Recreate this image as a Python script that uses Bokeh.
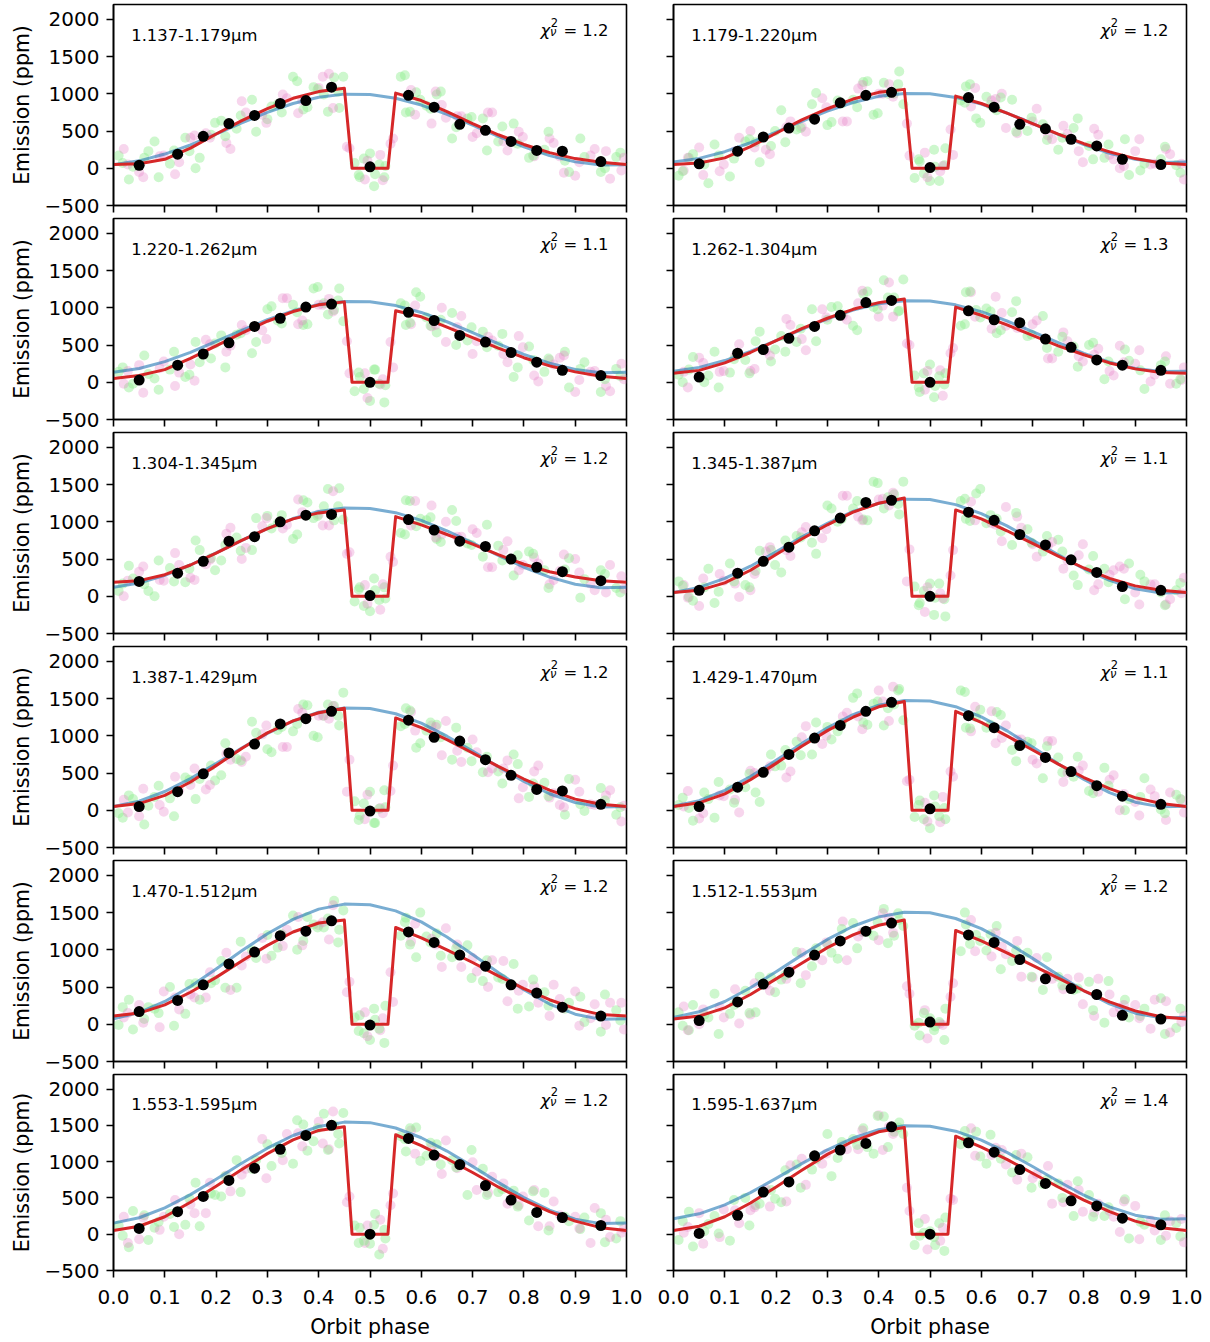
from bokeh.plotting import figure
from bokeh.models import Label, FixedTicker, NumeralTickFormatter
from bokeh.layouts import column, row
from bokeh.embed import file_html
from bokeh.resources import INLINE

# ---------------- data ----------------
panel_labels = ["1.137-1.179μm", "1.179-1.220μm", "1.220-1.262μm", "1.262-1.304μm",
                "1.304-1.345μm", "1.345-1.387μm", "1.387-1.429μm", "1.429-1.470μm",
                "1.470-1.512μm", "1.512-1.553μm", "1.553-1.595μm", "1.595-1.637μm"]
chi2_values = ["1.2", "1.2", "1.1", "1.3", "1.2", "1.1", "1.2", "1.1", "1.2", "1.2", "1.2", "1.4"]

x_ticks = [0.0, 0.1, 0.2, 0.3, 0.4, 0.5, 0.6, 0.7, 0.8, 0.9, 1.0]
x_tick_labels = ["0.0", "0.1", "0.2", "0.3", "0.4", "0.5", "0.6", "0.7", "0.8", "0.9", "1.0"]
y_ticks = [-500, 0, 500, 1000, 1500, 2000]
y_tick_labels = ["\u2212500", "0", "500", "1000", "1500", "2000"]

# phases of the binned points
bin_phase = [0.05, 0.125, 0.175, 0.225, 0.275, 0.325, 0.375, 0.425, 0.5,
             0.575, 0.625, 0.675, 0.725, 0.775, 0.825, 0.875, 0.95]
# phases of the eclipse model (red)
eclipse_phase = [0.0, 0.05, 0.1, 0.15, 0.2, 0.25, 0.3, 0.35, 0.4, 0.45, 0.465,
                 0.535, 0.55, 0.6, 0.65, 0.7, 0.75, 0.8, 0.85, 0.9, 0.95, 1.0]
# phases of the sinusoid model (blue)
sine_phase = [0.0, 0.05, 0.1, 0.15, 0.2, 0.25, 0.3, 0.35, 0.4, 0.45, 0.5,
              0.55, 0.6, 0.65, 0.7, 0.75, 0.8, 0.85, 0.9, 0.95, 1.0]
# phases of the unbinned exposures (same for every channel)
green_phase = [0.01, 0.03, 0.06, 0.08, 0.11, 0.14, 0.16, 0.19, 0.21, 0.24,
               0.27, 0.30, 0.32, 0.35, 0.37, 0.39, 0.41, 0.43, 0.44, 0.47,
               0.48, 0.50, 0.51, 0.53, 0.56, 0.57, 0.59, 0.61, 0.63, 0.66,
               0.69, 0.72, 0.75, 0.78, 0.81, 0.84, 0.88, 0.91, 0.95, 0.98]
green_phase_b = [0.018, 0.038, 0.068, 0.088, 0.118, 0.148, 0.168, 0.198, 0.218, 0.248,
                 0.278, 0.308, 0.328, 0.358, 0.378, 0.398, 0.418, 0.438, 0.448, 0.478,
                 0.488, 0.508, 0.518, 0.528, 0.568, 0.578, 0.598, 0.618, 0.638, 0.668,
                 0.698, 0.728, 0.758, 0.788, 0.818, 0.848, 0.888, 0.918, 0.958, 0.988]
pink_phase = [0.02, 0.05, 0.09, 0.12, 0.15, 0.18, 0.22, 0.25, 0.29, 0.33,
              0.36, 0.40, 0.42, 0.46, 0.49, 0.52, 0.54, 0.58, 0.62, 0.64,
              0.67, 0.70, 0.73, 0.76, 0.79, 0.82, 0.85, 0.87, 0.90, 0.93, 0.96, 0.99]
pink_phase_b = [0.028, 0.058, 0.098, 0.128, 0.158, 0.188, 0.228, 0.258, 0.298, 0.338,
                0.368, 0.408, 0.428, 0.455, 0.495, 0.525, 0.545, 0.588, 0.628, 0.648,
                0.678, 0.708, 0.738, 0.768, 0.798, 0.828, 0.858, 0.878, 0.908, 0.938, 0.968, 0.995]

# --- panel 1: 1.137-1.179
binned_01 = [40, 190, 430, 600, 710, 870, 910, 1090, 20, 980, 820, 590, 510, 360, 240, 230, 90]
eclipse_01 = [50, 60, 120, 270, 460, 640, 800, 940, 1030, 1075, 0, 0, 1010, 910, 760, 600, 450, 320, 210, 130, 80, 50]
sine_01 = [49, 100, 191, 315, 460, 610, 751, 870, 954, 996, 991, 940, 849, 724, 580, 430, 289, 170, 86, 44, 49]
green_01 = [170, -150, 140, 360, 60, 410, 0, 450, 640, 530, 920, 660, 860, 1230, 790, 1090, 990, 1220, 810, 70,
            -120, 200, -80, 30, 1230, 750, 1020, 840, 990, 400, 670, 670, 360, 600, 140, 250, 100, 400, -50, 150]
green_01b = [70, 20, 230, -120, 240, 230, 140, 610, 430, 710, 490, 830, 750, 1170, 820, 1060, 760, 1030, 1230, -90,
             130, -240, 50, -120, 1250, 760, 920, 800, 1030, 550, 690, 240, 560, 330, 170, 490, -50, 150, 0, 210]
pink_01 = [260, -50, 160, -80, 410, 470, 340, 900, 720, 990, 740, 1080, 1270, 270, -150, 180,
           330, 1050, 600, 850, 700, 420, 750, 360, 490, 160, 400, 160, -100, 170, 230, -30]
pink_01b = [50, -120, 170, 80, 440, 410, 260, 750, 610, 940, 910, 1230, 810, 290, 100, -160,
            400, 720, 1030, 680, 700, 470, 750, 240, 420, 240, 340, -60, 80, 260, -140, 140]

# --- panel 2: 1.179-1.220
binned_02 = [60, 230, 420, 540, 660, 880, 980, 1020, 10, 950, 820, 590, 530, 390, 300, 120, 50]
eclipse_02 = [50, 70, 140, 290, 470, 650, 800, 930, 1020, 1060, 0, 0, 970, 870, 740, 600, 460, 330, 220, 130, 70, 50]
sine_02 = [83, 133, 223, 343, 485, 630, 768, 884, 966, 1006, 1002, 952, 863, 742, 601, 456, 317, 202, 120, 79, 83]
green_02 = [-100, 140, 50, 320, -110, 360, 350, 300, 780, 520, 860, 580, 910, 920, 1160, 720, 1150, 1000, 1300, -130,
            90, -170, 20, 270, 910, 1100, 670, 960, 780, 920, 500, 590, 250, 540, 300, 140, 390, -30, 120, 40]
green_02b = [-40, 190, -200, 170, 130, 390, 80, 500, 350, 540, 1010, 620, 870, 820, 1170, 740, 1000, 1130, 860, 120,
             -70, 250, -170, 40, 880, 1130, 610, 850, 950, 490, 680, 380, 410, 670, 120, 320, -90, 60, 290, -60]
pink_02 = [-30, 280, -40, 230, 500, 250, 550, 560, 940, 630, 1070, 1000, 1130, 170, 210, -40,
           520, 830, 910, 1000, 470, 630, 440, 570, 230, 530, 180, 0, 230, 50, 260, 60]
pink_02b = [140, -90, 50, 410, 280, 190, 630, 490, 820, 630, 1120, 1000, 960, 600, -120, 30,
            180, 1080, 930, 540, 620, 800, 390, 460, 80, 450, 120, 30, 390, 60, 190, -150]

# --- panel 3: 1.220-1.262
binned_03 = [30, 230, 380, 530, 750, 860, 1010, 1050, 0, 940, 830, 630, 540, 400, 270, 160, 90]
eclipse_03 = [50, 90, 170, 320, 490, 660, 820, 950, 1040, 1080, 0, 0, 960, 880, 740, 600, 460, 330, 220, 140, 80, 50]
sine_03 = [134, 185, 277, 402, 548, 698, 840, 960, 1045, 1086, 1081, 1030, 938, 813, 668, 518, 375, 256, 171, 129, 134]
green_03 = [140, -70, 360, 50, 170, 70, 540, 320, 630, 640, 390, 980, 830, 1040, 770, 1260, 1060, 970, 1260, -120,
            70, -250, 170, -40, 1060, 770, 1210, 870, 670, 930, 560, 680, 490, 70, 480, 140, 410, 180, -130, 180]
green_03b = [200, -20, 110, -100, 410, 100, 270, 520, 200, 660, 540, 1020, 790, 940, 780, 1280, 910, 1100, 820, 130,
             -90, 170, -20, -270, 1030, 800, 1150, 760, 840, 500, 740, 470, 650, 200, 300, 320, -70, 270, 40, 80]
pink_03 = [-20, 230, 190, -50, 240, 570, 410, 770, 700, 1130, 780, 1040, 1120, 120, 120, -30,
           540, 780, 750, 1000, 740, 380, 610, 380, 620, 90, 300, 330, -130, 140, -50, 250]
pink_03b = [150, -140, 280, 130, 20, 510, 490, 700, 580, 1130, 830, 1040, 950, 550, -210, 40,
            200, 1030, 770, 540, 890, 550, 560, 270, 470, 10, 240, 360, 30, 150, -120, 40]

# --- panel 4: 1.262-1.304
binned_04 = [70, 390, 440, 590, 750, 900, 1070, 1100, 0, 960, 840, 800, 580, 470, 300, 230, 160]
eclipse_04 = [120, 160, 260, 400, 560, 720, 860, 980, 1070, 1120, 0, 0, 1010, 900, 770, 630, 490, 370, 260, 180, 130, 120]
sine_04 = [149, 200, 292, 416, 560, 710, 851, 970, 1055, 1096, 1091, 1040, 949, 824, 680, 531, 389, 271, 186, 144, 149]
green_04 = [100, 170, 0, 410, 130, 300, 550, 280, 620, 540, 980, 840, 1020, 760, 1190, 1010, 1370, 1140, 960, 90,
            -130, 240, -50, 120, 760, 1210, 970, 990, 660, 940, 620, 890, 410, 480, 500, 40, 440, 160, 230, -20]
green_04b = [0, 340, 90, -70, 310, 120, 680, 440, 410, 720, 550, 1010, 910, 700, 1220, 980, 1140, 950, 1380, -70,
             120, -200, 80, -30, 780, 1220, 870, 950, 700, 1090, 640, 460, 610, 210, 530, 280, 290, -90, 280, 40]
pink_04 = [140, 330, 140, 350, 150, 420, 850, 580, 980, 890, 1060, 880, 1340, 500, -100, 160,
           390, 1210, 720, 930, 730, 780, 320, 670, 350, 370, 150, 490, 250, 10, 350, 30]
pink_04b = [-70, 260, 150, 510, 180, 360, 770, 430, 870, 840, 1230, 1030, 880, 520, 150, -180,
            460, 880, 1150, 760, 730, 830, 320, 550, 280, 450, 90, 270, 430, 100, -20, 200]

# --- panel 5: 1.304-1.345
binned_05 = [200, 310, 470, 740, 800, 1000, 1090, 1100, 10, 1030, 890, 740, 670, 500, 390, 330, 210]
eclipse_05 = [190, 210, 290, 420, 580, 750, 910, 1040, 1120, 1160, 0, 0, 1070, 960, 830, 700, 560, 430, 330, 260, 210, 190]
sine_05 = [120, 177, 281, 420, 583, 752, 910, 1044, 1139, 1186, 1180, 1123, 1020, 880, 718, 550, 390, 257, 162, 114, 120]
green_05 = [70, 410, 160, 0, 380, 190, 750, 510, 480, 790, 620, 1080, 980, 770, 1290, 1050, 1210, 1020, 1450, -70,
            120, -200, 80, -30, 850, 1290, 940, 1020, 770, 1160, 710, 530, 680, 280, 600, 350, 360, -20, 350, 110]
green_05b = [170, 240, 70, 480, 200, 370, 620, 350, 690, 610, 1050, 910, 1090, 830, 1260, 1080, 1440, 1210, 1030, 90,
             -130, 240, -50, 120, 830, 1280, 1040, 1060, 730, 1010, 690, 960, 480, 550, 570, 110, 510, 230, 300, 50]
pink_05 = [0, 330, 220, 580, 250, 430, 840, 500, 940, 910, 1300, 1100, 950, 590, 150, -180,
           530, 950, 1220, 830, 800, 900, 390, 620, 350, 520, 160, 340, 500, 170, 50, 270]
pink_05b = [210, 400, 210, 420, 220, 490, 920, 650, 1050, 960, 1130, 950, 1410, 570, -100, 160,
            460, 1280, 790, 1000, 800, 850, 390, 740, 420, 440, 220, 560, 320, 80, 420, 100]

# --- panel 6: 1.345-1.387
binned_06 = [80, 310, 470, 660, 880, 1050, 1260, 1290, 0, 1130, 1020, 830, 690, 490, 320, 130, 80]
eclipse_06 = [50, 80, 180, 350, 560, 770, 960, 1130, 1250, 1320, 0, 0, 1160, 1040, 880, 710, 540, 380, 240, 140, 80, 50]
sine_06 = [51, 119, 241, 404, 596, 794, 981, 1139, 1250, 1305, 1299, 1231, 1111, 946, 755, 557, 369, 213, 101, 45, 51]
green_06 = [200, -10, 120, -90, 440, 150, 340, 620, 320, 810, 720, 1220, 1000, 1180, 1030, 1540, 1180, 1370, 1100, 130,
            -90, 170, -20, -270, 1280, 1040, 1380, 980, 1040, 690, 900, 600, 760, 280, 360, 370, -40, 290, 50, 80]
green_06b = [140, -60, 370, 60, 200, 120, 610, 420, 750, 790, 570, 1180, 1040, 1280, 1020, 1520, 1330, 1240, 1540, -120,
             70, -250, 170, -40, 1310, 1010, 1440, 1090, 870, 1120, 720, 810, 600, 150, 540, 190, 440, 200, -120, 180]
pink_06 = [150, -130, 300, 170, 80, 600, 620, 860, 780, 1350, 1070, 1300, 1220, 630, -210, 40,
           280, 1270, 980, 740, 1070, 700, 680, 370, 550, 80, 290, 400, 50, 160, -110, 40]
pink_06b = [-20, 240, 210, -10, 300, 660, 540, 930, 900, 1350, 1020, 1310, 1390, 200, 120, -30,
            620, 1020, 960, 1200, 920, 530, 730, 480, 700, 160, 350, 370, -110, 160, -40, 250]

# --- panel 7: 1.387-1.429
binned_07 = [50, 250, 490, 770, 890, 1160, 1230, 1330, -10, 1210, 980, 930, 680, 470, 280, 260, 80]
eclipse_07 = [50, 90, 200, 380, 600, 830, 1040, 1200, 1310, 1370, 0, 0, 1240, 1110, 950, 770, 590, 420, 270, 150, 80, 50]
sine_07 = [52, 123, 252, 425, 627, 836, 1033, 1199, 1317, 1375, 1368, 1297, 1170, 995, 794, 585, 387, 222, 104, 45, 52]
green_07 = [-40, 200, -190, 180, 160, 440, 150, 600, 470, 690, 1190, 820, 1080, 1060, 1420, 1000, 1270, 1400, 1140, 120,
            -70, 250, -170, 40, 1130, 1370, 840, 1070, 1150, 680, 840, 510, 520, 750, 180, 370, -60, 80, 300, -60]
green_07b = [-100, 150, 60, 330, -80, 410, 420, 400, 900, 670, 1040, 780, 1120, 1160, 1410, 980, 1420, 1270, 1580, -130,
             90, -170, 20, 270, 1160, 1340, 900, 1180, 980, 1110, 660, 720, 360, 620, 360, 190, 420, -10, 130, 40]
pink_07 = [140, -80, 70, 450, 340, 280, 760, 650, 1020, 850, 1360, 1270, 1230, 680, -120, 30,
           260, 1320, 1140, 740, 800, 950, 510, 560, 160, 520, 170, 70, 410, 80, 200, -150]
pink_07b = [-30, 290, -20, 270, 560, 340, 680, 720, 1140, 850, 1310, 1270, 1400, 250, 210, -40,
            600, 1070, 1120, 1200, 650, 780, 560, 670, 310, 600, 230, 40, 250, 70, 270, 60]

# --- panel 8: 1.429-1.470
binned_08 = [50, 310, 510, 750, 970, 1140, 1330, 1450, 20, 1270, 1110, 870, 710, 520, 330, 190, 80]
eclipse_08 = [50, 100, 220, 410, 630, 860, 1070, 1250, 1390, 1460, 0, 0, 1330, 1180, 1000, 810, 620, 440, 290, 170, 90, 50]
sine_08 = [53, 129, 268, 453, 671, 895, 1107, 1286, 1412, 1474, 1467, 1391, 1254, 1067, 851, 626, 413, 236, 109, 46, 53]
green_08 = [70, 30, 240, -100, 280, 310, 240, 750, 600, 920, 750, 1120, 1060, 1510, 1180, 1430, 1140, 1420, 1630, -90,
            130, -240, 50, -120, 1610, 1110, 1250, 1110, 1320, 810, 920, 430, 710, 450, 260, 570, 0, 180, 10, 210]
green_08b = [170, -140, 150, 380, 100, 490, 110, 590, 810, 740, 1180, 950, 1170, 1570, 1150, 1460, 1370, 1610, 1210, 70,
             -120, 200, -80, 30, 1590, 1100, 1350, 1150, 1280, 660, 900, 860, 510, 720, 230, 330, 150, 430, -40, 150]
pink_08 = [50, -110, 200, 140, 530, 530, 440, 980, 890, 1260, 1260, 1610, 1200, 410, 100, -160,
           520, 1060, 1330, 970, 950, 680, 930, 380, 530, 330, 410, 0, 110, 280, -130, 140]
pink_08b = [260, -40, 190, -30, 500, 590, 520, 1130, 1000, 1310, 1090, 1460, 1660, 390, -150, 180,
            450, 1390, 900, 1140, 950, 630, 930, 500, 600, 250, 470, 220, -70, 190, 240, -30]

# --- panel 9: 1.470-1.512
binned_09 = [170, 320, 530, 810, 970, 1190, 1250, 1390, -10, 1240, 1100, 930, 780, 530, 420, 230, 110]
eclipse_09 = [110, 150, 260, 430, 630, 850, 1060, 1240, 1360, 1400, 0, 0, 1300, 1160, 1000, 830, 650, 480, 330, 210, 130, 110]
sine_09 = [74, 157, 306, 508, 743, 987, 1216, 1409, 1547, 1614, 1606, 1523, 1375, 1172, 938, 695, 464, 272, 135, 66, 74]
green_09 = [-10, 330, 70, 210, 500, 140, 550, 550, 850, 490, 990, 1200, 1030, 1460, 1120, 1340, 1300, 1660, 1270, 90,
            120, -210, 60, 250, 1190, 1430, 900, 1180, 1220, 900, 1060, 580, 630, 810, 240, 430, 210, 370, -100, 190]
green_09b = [230, -70, 230, 150, -20, 540, 330, 590, 490, 1110, 890, 920, 1210, 1000, 1440, 1300, 1420, 1100, 1530, -90,
             -120, 210, -60, -250, 1370, 1070, 1500, 1100, 920, 1020, 620, 860, 610, 210, 600, 250, 290, 30, 400, 50]
pink_09 = [90, 260, -40, 360, 400, 360, 960, 790, 1160, 1050, 1440, 1330, 1140, 570, 160, -80,
           700, 1110, 1150, 770, 1070, 890, 500, 850, 450, 510, 110, 340, 440, 80, -10, 290]
pink_09b = [150, 20, 440, 200, 360, 700, 460, 910, 880, 1270, 1060, 1370, 1600, 430, -160, 80,
            300, 1350, 1070, 1290, 770, 710, 860, 310, 530, 290, 530, 220, -20, 270, 290, -70]

# --- panel 10: 1.512-1.553
binned_10 = [50, 300, 540, 700, 930, 1120, 1250, 1360, 30, 1200, 1100, 870, 610, 480, 400, 120, 70]
eclipse_10 = [70, 110, 220, 400, 610, 820, 1030, 1200, 1330, 1400, 0, 0, 1260, 1120, 960, 790, 620, 450, 300, 180, 100, 70]
sine_10 = [93, 169, 306, 490, 706, 929, 1140, 1317, 1443, 1504, 1497, 1421, 1285, 1100, 885, 662, 450, 274, 149, 86, 93]
green_10 = [160, -80, 130, 410, 140, 450, 160, 630, 600, 970, 780, 1080, 880, 1360, 1240, 1190, 1550, 1190, 1400, -20,
            -150, 80, -30, 210, 980, 1340, 1200, 990, 1320, 850, 960, 460, 640, 460, 570, 20, 330, 110, 350, -50]
green_10b = [-20, 260, 90, -130, 260, 150, 640, 430, 660, 550, 1020, 960, 1280, 1020, 1240, 1370, 1090, 1490, 1320, 20,
             150, -80, 30, -210, 1500, 1080, 1120, 1210, 740, 990, 640, 900, 520, 480, 190, 580, 90, 210, -130, 210]
pink_10 = [240, 0, 230, 470, 130, 530, 610, 960, 860, 1380, 1180, 1130, 1430, 410, 190, 10,
           370, 1400, 910, 1040, 1120, 630, 670, 470, 630, 110, 400, 220, 260, -60, 310, 30]
pink_10b = [-80, 200, 90, 10, 550, 450, 730, 660, 1100, 860, 1240, 1490, 1230, 510, -190, -10,
            550, 980, 1230, 940, 640, 890, 610, 610, 270, 610, 160, 260, 80, 330, -110, 110]

# --- panel 11: 1.553-1.595
binned_11 = [80, 310, 520, 740, 910, 1170, 1360, 1500, 0, 1320, 1090, 960, 670, 470, 300, 230, 120]
eclipse_11 = [50, 110, 240, 440, 660, 890, 1110, 1300, 1430, 1480, 0, 0, 1370, 1220, 1040, 850, 650, 470, 310, 180, 90, 50]
sine_11 = [153, 227, 363, 545, 758, 978, 1185, 1360, 1484, 1544, 1537, 1463, 1329, 1145, 934, 714, 505, 332, 208, 146, 153]
green_11 = [120, -180, 260, 90, 280, 130, 710, 560, 520, 1020, 900, 1240, 1200, 970, 1510, 1280, 1660, 1500, 1250, 120,
            90, -130, 280, -60, 1350, 1140, 1470, 1080, 1240, 1020, 540, 900, 580, 600, 190, 570, 240, 70, 290, -60]
green_11b = [-20, 320, -80, 170, 100, 490, 110, 540, 800, 580, 1020, 940, 1120, 1570, 1150, 1460, 1160, 1380, 1670, -120,
             -90, 130, -280, 60, 1310, 1460, 1010, 1260, 960, 920, 1160, 540, 620, 380, 590, 50, 180, 230, -110, 180]
pink_11 = [240, -70, 60, 470, 410, 290, 810, 820, 1310, 1020, 1390, 1550, 1170, 520, -120, 200,
           400, 1430, 1210, 830, 910, 990, 570, 700, 400, 610, 110, 260, 240, -120, 200, 20]
pink_11b = [-120, 230, 240, 0, 290, 710, 590, 900, 770, 1380, 1210, 1250, 1690, 440, 120, -200,
            560, 1110, 1070, 1290, 950, 610, 790, 420, 520, 110, 450, 220, 80, 360, -40, 80]

# --- panel 12: 1.595-1.637
binned_12 = [10, 260, 580, 720, 1080, 1160, 1250, 1480, 0, 1260, 1130, 890, 700, 460, 390, 220, 130]
eclipse_12 = [50, 110, 240, 430, 650, 880, 1100, 1280, 1410, 1470, 0, 0, 1350, 1200, 1030, 840, 650, 470, 310, 180, 90, 50]
sine_12 = [212, 281, 405, 573, 769, 972, 1163, 1325, 1439, 1495, 1488, 1419, 1296, 1127, 932, 729, 537, 377, 262, 205, 212]
green_12 = [-80, 310, 40, 250, -90, 500, 400, 610, 440, 960, 890, 1380, 1050, 1310, 1460, 1110, 1620, 1410, 1540, -150,
            -20, 40, -150, 230, 1240, 1300, 1410, 970, 1160, 850, 1060, 690, 700, 250, 540, 250, 480, 170, -80, 150]
green_12b = [180, -170, 140, 10, 470, 120, 420, 490, 880, 640, 1030, 800, 1270, 1230, 1200, 1630, 1200, 1470, 1380, 150,
             20, -40, 150, -230, 1420, 1300, 1070, 1370, 1040, 1090, 640, 750, 500, 730, 240, 370, -60, 130, 260, -30]
pink_12 = [20, 290, -40, 330, 330, 620, 450, 1040, 970, 1230, 1170, 1640, 1480, 320, 210, -90,
           490, 1460, 1090, 1160, 750, 770, 940, 440, 610, 300, 320, 30, 390, 190, -20, 210]
pink_12b = [100, -130, 340, 150, 370, 380, 950, 680, 1110, 1170, 1430, 1160, 1380, 640, -210, 90,
            470, 1080, 1190, 960, 1110, 830, 420, 680, 310, 420, 240, 450, -70, 50, 180, -110]

binned_all = [binned_01, binned_02, binned_03, binned_04, binned_05, binned_06,
              binned_07, binned_08, binned_09, binned_10, binned_11, binned_12]
eclipse_all = [eclipse_01, eclipse_02, eclipse_03, eclipse_04, eclipse_05, eclipse_06,
               eclipse_07, eclipse_08, eclipse_09, eclipse_10, eclipse_11, eclipse_12]
sine_all = [sine_01, sine_02, sine_03, sine_04, sine_05, sine_06,
            sine_07, sine_08, sine_09, sine_10, sine_11, sine_12]
green_all = [green_01, green_02, green_03, green_04, green_05, green_06,
             green_07, green_08, green_09, green_10, green_11, green_12]
green_all_b = [green_01b, green_02b, green_03b, green_04b, green_05b, green_06b,
               green_07b, green_08b, green_09b, green_10b, green_11b, green_12b]
pink_all = [pink_01, pink_02, pink_03, pink_04, pink_05, pink_06,
            pink_07, pink_08, pink_09, pink_10, pink_11, pink_12]
pink_all_b = [pink_01b, pink_02b, pink_03b, pink_04b, pink_05b, pink_06b,
              pink_07b, pink_08b, pink_09b, pink_10b, pink_11b, pink_12b]

# ---------------- style ----------------
FONT = "DejaVu Sans"
TICK_FS = "20px"
LABEL_FS = "20.5px"
ANNOT_FS = "16.4px"
SCRIPT_FS = "11.5px"
GREEN = "#90ee90"
PINK = "#e377c2"


def style_axis(ax, show_labels):
    ax.axis_line_color = "black"
    ax.axis_line_width = 1.6
    ax.major_tick_line_color = "black"
    ax.major_tick_line_width = 1.6
    ax.major_tick_in = 0
    ax.major_tick_out = 7
    ax.minor_tick_line_color = None
    ax.axis_label_text_font = FONT
    ax.axis_label_text_font_size = LABEL_FS
    ax.axis_label_text_font_style = "normal"
    ax.axis_label_text_color = "black"
    if show_labels:
        ax.major_label_text_font = FONT
        ax.major_label_text_font_size = TICK_FS
        ax.major_label_text_color = "black"
    else:
        # ticks only, no tick labels drawn
        ax.major_label_text_color = None
        ax.major_label_text_font_size = "0px"
        ax.major_label_standoff = 0


def make_panel(i):
    left = (i % 2 == 0)
    first = (i < 2)
    bottom = (i >= 10)
    top_b = 4 if first else 1
    bot_b = 66 if bottom else 12
    p = figure(width=642 if left else 568, height=top_b + 201 + bot_b,
               x_range=(0, 1), y_range=(-500, 2200),
               output_backend="svg", toolbar_location=None,
               min_border_left=113 if left else 31,
               min_border_right=16 if left else 24,
               min_border_top=top_b, min_border_bottom=bot_b)
    p.outline_line_color = "black"
    p.outline_line_width = 1.6
    p.outline_line_alpha = 1.0
    p.grid.visible = False
    p.background_fill_color = "white"
    p.border_fill_color = "white"

    xa = p.xaxis[0]
    xa.ticker = FixedTicker(ticks=x_ticks)
    style_axis(xa, bottom)
    if bottom:
        xa.formatter = NumeralTickFormatter(format="0.0")
        xa.major_label_overrides = {t: s for t, s in zip(x_ticks, x_tick_labels)}
        xa.major_label_standoff = 12
        xa.axis_label = "Orbit phase"
        xa.axis_label_standoff = 8

    ya = p.yaxis[0]
    ya.ticker = FixedTicker(ticks=y_ticks)
    style_axis(ya, left)
    if left:
        ya.major_label_overrides = {t: s for t, s in zip(y_ticks, y_tick_labels)}
        ya.major_label_standoff = 7
        ya.axis_label = "Emission (ppm)"
        ya.axis_label_standoff = 8

    # unbinned data
    p.scatter(green_phase, green_all[i], size=10, fill_color=GREEN,
              fill_alpha=0.45, line_color=None)
    p.scatter(pink_phase, pink_all[i], size=10, fill_color=PINK,
              fill_alpha=0.3, line_color=None)
    p.scatter(green_phase_b, green_all_b[i], size=10, fill_color=GREEN,
              fill_alpha=0.45, line_color=None)
    p.scatter(pink_phase_b, pink_all_b[i], size=10, fill_color=PINK,
              fill_alpha=0.3, line_color=None)
    # models
    p.line(sine_phase, sine_all[i], line_color="#1f77b4", line_alpha=0.6,
           line_width=3, line_join="round")
    p.line(eclipse_phase, eclipse_all[i], line_color="#d62728", line_width=3,
           line_join="round")
    # binned data
    p.scatter(bin_phase, binned_all[i], size=11, fill_color="black", line_color=None)

    # annotations
    p.add_layout(Label(x=0.0345, y=1780, text=panel_labels[i], text_font=FONT,
                       text_font_size=ANNOT_FS, text_color="black",
                       text_baseline="alphabetic", text_align="left"))
    p.add_layout(Label(x=0.8324, y=1847, text="χ", text_font=FONT,
                       text_font_style="italic", text_font_size=ANNOT_FS,
                       text_color="black", text_baseline="alphabetic"))
    p.add_layout(Label(x=0.8525, y=1960, text="2", text_font=FONT,
                       text_font_size=SCRIPT_FS, text_color="black",
                       text_baseline="alphabetic"))
    p.add_layout(Label(x=0.851, y=1826, text="ν", text_font=FONT,
                       text_font_style="italic", text_font_size=SCRIPT_FS,
                       text_color="black", text_baseline="alphabetic"))
    p.add_layout(Label(x=0.877, y=1847, text="= " + chi2_values[i], text_font=FONT,
                       text_font_size=ANNOT_FS, text_color="black",
                       text_baseline="alphabetic"))
    return p


panels = [make_panel(i) for i in range(12)]
layout = column(*[row(panels[2 * r], panels[2 * r + 1]) for r in range(6)])

open("out.html", "w").write(file_html(layout, INLINE, title="Emission phase curves"))
